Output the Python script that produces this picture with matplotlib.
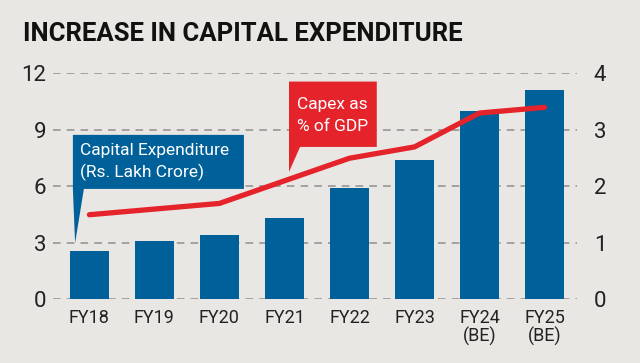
import numpy as np
import matplotlib.pyplot as plt
from matplotlib.patches import Polygon

years = ['FY18', 'FY19', 'FY20', 'FY21', 'FY22', 'FY23', 'FY24\n(BE)', 'FY25\n(BE)']
capex = [2.6, 3.1, 3.4, 4.3, 5.9, 7.4, 10.0, 11.1]          # Rs. lakh crore
capex_gdp = [1.5, 1.6, 1.7, 2.1, 2.5, 2.7, 3.3, 3.4]        # % of GDP

BG = '#e9e7e3'
BLUE = '#00609a'
RED = '#e4232b'
FONT = 'Roboto'

fig = plt.figure(figsize=(6.4, 3.63), dpi=100, facecolor=BG)
ax = fig.add_axes([0.0828, 0.175, 0.8188, 0.6226])
ax.set_facecolor(BG)
ax2 = ax.twinx()

x = np.arange(len(years))
ax.bar(x, capex, width=0.6, color=BLUE, zorder=2)
ax2.plot(x, capex_gdp, color=RED, lw=3.8, solid_capstyle='round', solid_joinstyle='round', zorder=3)

ax.set_xlim(-0.56, 7.5)
ax.set_ylim(0, 12)
ax2.set_ylim(0, 4)
ax.set_yticks([0, 3, 6, 9, 12])
ax2.set_yticks([0, 1, 2, 3, 4])
ax.yaxis.grid(True, ls=(0, (5, 4)), color='#8f8f8f', lw=1.1, zorder=0)
ax.set_axisbelow(True)
for a in (ax, ax2):
    for s in a.spines.values():
        s.set_visible(False)
    a.tick_params(length=0, labelsize=16, labelcolor='#222222')
ax.tick_params(axis='y', pad=5)
ax2.tick_params(axis='y', pad=12)
ax.set_xticks(x)
ax.set_xticklabels(years, fontsize=13, linespacing=0.95)
ax.tick_params(axis='x', pad=7)
for lab in ax.get_xticklabels() + ax.get_yticklabels() + ax2.get_yticklabels():
    lab.set_family(FONT)

# callout boxes
ax.add_patch(Polygon([(-0.254, 8.74), (2.377, 8.74), (2.377, 5.87), (-0.085, 5.87), (-0.22, 3.0),
                      (-0.254, 5.87)], closed=True, color=BLUE, zorder=4, lw=0))
ax.text(-0.15, 7.9, 'Capital Expenditure', color='white', fontsize=12.5, family=FONT, va='center', zorder=5)
ax.text(-0.15, 6.75, '(Rs. Lakh Crore)', color='white', fontsize=12.5, family=FONT, va='center', zorder=5)

ax.add_patch(Polygon([(3.07, 11.57), (4.42, 11.57), (4.42, 8.1), (3.24, 8.1), (3.07, 6.77)],
                     closed=True, color=RED, zorder=4, lw=0))
ax.text(3.19, 10.35, 'Capex as', color='white', fontsize=12.5, family=FONT, va='center', zorder=5)
ax.text(3.19, 9.2, '% of GDP', color='white', fontsize=12.5, family=FONT, va='center', zorder=5)

fig.text(0.036, 0.905, 'INCREASE IN CAPITAL EXPENDITURE', fontsize=18.5, fontweight='bold',
         family=FONT, va='center', color='#111111')

fig.savefig('out.png', dpi=100, facecolor=BG)
